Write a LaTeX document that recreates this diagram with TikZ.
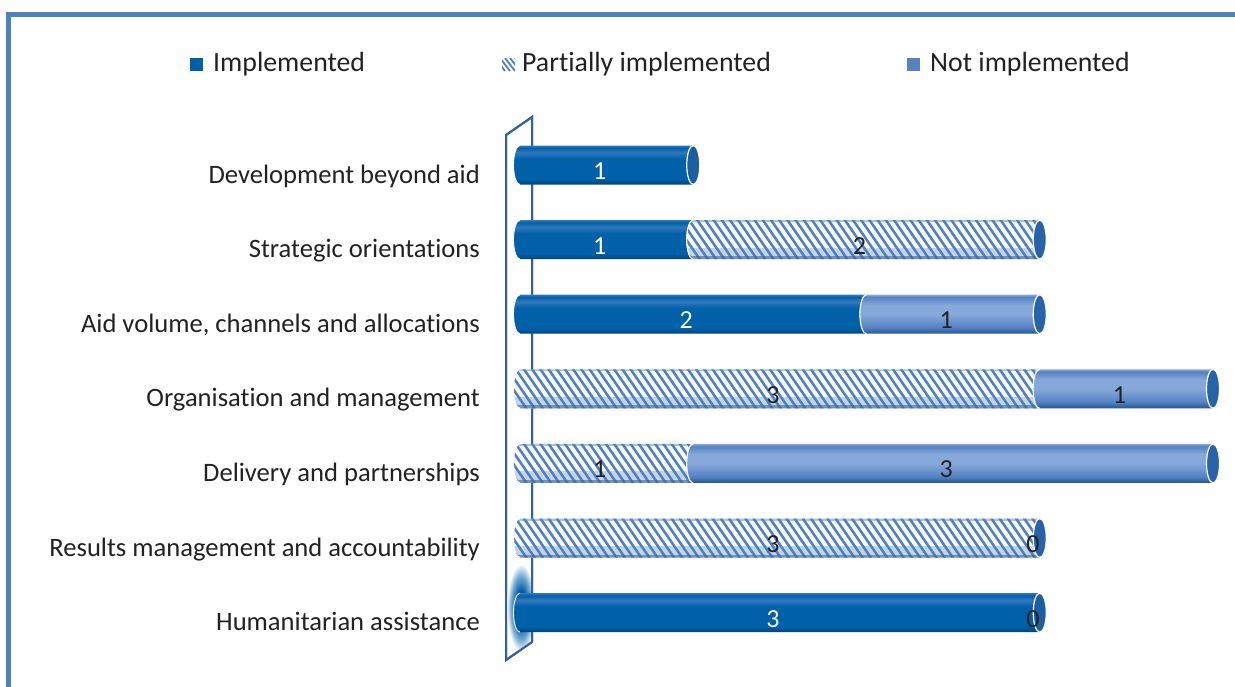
\documentclass[tikz,border=0pt]{standalone}
\usepackage{fontspec}
\setmainfont{Carlito}[RawFeature={-liga;-clig;-calt;-dlig;-hlig}]
\definecolor{frameC}{RGB}{79,129,189}
\definecolor{implC}{RGB}{0,96,168}
\definecolor{implD}{RGB}{0,66,124}
\definecolor{implL}{RGB}{50,120,190}
\definecolor{implCap}{RGB}{28,94,160}
\definecolor{notC}{RGB}{84,130,194}
\definecolor{notL}{RGB}{135,168,218}
\definecolor{notD}{RGB}{36,84,150}
\definecolor{notCap}{RGB}{40,98,168}
\definecolor{stripeC}{RGB}{78,128,194}
\definecolor{stripeBg}{RGB}{248,250,254}
\definecolor{wallC}{RGB}{52,96,160}
\definecolor{txtC}{RGB}{34,34,34}
\pgfdeclareverticalshading{implsh}{100bp}{color(0bp)=(implD); color(25bp)=(implD); color(32bp)=(implC); color(58bp)=(implC); color(66bp)=(implL); color(72bp)=(implC); color(75bp)=(implL); color(100bp)=(implL)}
\pgfdeclareverticalshading{notsh}{100bp}{color(0bp)=(notD); color(25bp)=(notD); color(33bp)=(notC); color(50bp)=(notL); color(62bp)=(notL); color(72bp)=(notC); color(75bp)=(notL); color(100bp)=(notL)}
\pgfdeclareradialshading{glowsh}{\pgfpoint{0bp}{0bp}}{color(0bp)=(implD); color(10bp)=(implC); color(18bp)=(implC!55!white); color(25bp)=(white); color(50bp)=(white)}
\tikzset{
  catlbl/.style={anchor=base east, inner sep=0pt, text=txtC, font=\fontsize{26.6}{30}\selectfont},
  leglbl/.style={anchor=base west, inner sep=0pt, text=txtC, font=\fontsize{27.8}{32}\selectfont},
  numw/.style={anchor=base, inner sep=0pt, text=white, font=\fontsize{26}{30}\selectfont},
  numd/.style={anchor=base, inner sep=0pt, text=txtC, font=\fontsize{26}{30}\selectfont},
  capline/.style={draw=white, line width=1.2pt},
  leftedge/.style={draw=white, line width=0.9pt}
}
\newcommand\implseg[3]{%
  \shade[shading=implsh] (#1,#3-19.5) arc[start angle=90,end angle=270,x radius=6.5pt,y radius=19.5pt] -- (#2,#3+19.5) arc[start angle=270,end angle=450,x radius=6.5pt,y radius=19.5pt] -- cycle;
  \draw[leftedge] (#1,#3-19.5) arc[start angle=90,end angle=270,x radius=6.5pt,y radius=19.5pt];
  \path[fill=implCap, capline] (#2,#3) ellipse[x radius=6.5pt, y radius=19.5pt];
}
\newcommand\notseg[3]{%
  \shade[shading=notsh] (#1,#3-19.5) arc[start angle=90,end angle=270,x radius=6.5pt,y radius=19.5pt] -- (#2,#3+19.5) arc[start angle=270,end angle=450,x radius=6.5pt,y radius=19.5pt] -- cycle;
  \draw[leftedge] (#1,#3-19.5) arc[start angle=90,end angle=270,x radius=6.5pt,y radius=19.5pt];
  \path[fill=notCap, capline] (#2,#3) ellipse[x radius=6.5pt, y radius=19.5pt];
}
\newcommand\partseg[3]{%
  \begin{scope}
    \clip (#1,#3-19.5) arc[start angle=90,end angle=270,x radius=6.5pt,y radius=19.5pt] -- (#2,#3+19.5) arc[start angle=270,end angle=450,x radius=6.5pt,y radius=19.5pt] -- cycle;
    \fill[stripeBg] (#1-8,#3-21) rectangle (#2+8,#3+21);
    \pgfmathtruncatemacro\nst{(#2-#1+50)/8.2}
    \foreach \i in {0,...,\nst}{\draw[stripeC, line width=2.5pt] (#1-38+\i*8.2,#3-21) -- ++(29,42);}
    \fill[stripeC, opacity=0.30] (#1-8,#3+8) rectangle (#2+8,#3+21);
    \fill[stripeC!80!black, opacity=0.6] (#1-8,#3+16.5) rectangle (#2+8,#3+21);
    \fill[stripeC, opacity=0.45] (#1-8,#3-21) rectangle (#2+8,#3-17.5);
  \end{scope}
  \draw[leftedge] (#1,#3-19.5) arc[start angle=90,end angle=270,x radius=6.5pt,y radius=19.5pt];
  \path[fill=notCap, capline] (#2,#3) ellipse[x radius=6.5pt, y radius=19.5pt];
}
\begin{document}
\begin{tikzpicture}[x=1pt,y=-1pt]
\useasboundingbox (0,0) rectangle (1235,686);
\clip (0,0) rectangle (1235,686);
\fill[white] (0,0) rectangle (1235,686);
% frame
\draw[frameC, line width=5pt] (8.5,720) -- (8.5,14.5) -- (1260,14.5);
% legend
\fill[implC] (190,58) rectangle (203,71);
\node[leglbl] (l1) at (213,71) {Implemented};
\begin{scope}
  \clip (502,58) rectangle (515,71);
  \fill[white] (502,58) rectangle (515,71);
  \foreach \i in {0,...,5}{\draw[stripeC, line width=1.8pt] (490+\i*5,58) -- ++(10,13);}
\end{scope}
\node[leglbl] (l2) at (522,71) {Partially implemented};
\fill[notC] (907,58) rectangle (920,71);
\node[leglbl] (l3) at (930,71) {Not implemented};
% wall
\draw[wallC, line width=2pt, fill=white] (506,135) -- (532,117) -- (532,642) -- (506,660) -- cycle;
\begin{scope}
  \clip (506,135) -- (532,117) -- (532,642) -- (506,660) -- cycle;
  \shade[shading=glowsh] (521,608) ellipse[x radius=14pt, y radius=44pt];
\end{scope}
\draw[wallC, line width=2pt] (506,135) -- (532,117) -- (532,642) -- (506,660) -- cycle;
% category labels
\node[catlbl] (c1) at (480,183) {Development beyond aid};
\node[catlbl] (c2) at (480,257.6) {Strategic orientations};
\node[catlbl] (c3) at (480,332.2) {Aid volume, channels and allocations};
\node[catlbl] (c4) at (480,406.8) {Organisation and management};
\node[catlbl] (c5) at (480,481.4) {Delivery and partnerships};
\node[catlbl] (c6) at (480,556) {Results management and accountability};
\node[catlbl] (c7) at (480,630.6) {Humanitarian assistance};
% bars (x: 0->520, 1->693.25, 2->866.5, 3->1039.75, 4->1213)
\implseg{520}{693.25}{165}
\node[numw] (v1a) at (599.6,179.5) {1};
\implseg{520}{693.25}{239.6}
\partseg{693.25}{1039.75}{239.6}
\node[numw] (v2a) at (599.6,254.1) {1};
\node[numd] (v2b) at (859.5,254.1) {2};
\implseg{520}{866.5}{314.2}
\notseg{866.5}{1039.75}{314.2}
\node[numw] (v3a) at (686.2,328.7) {2};
\node[numd] (v3b) at (946.1,328.7) {1};
\partseg{520}{1039.75}{388.8}
\notseg{1039.75}{1213}{388.8}
\node[numd] (v4a) at (772.9,403.3) {3};
\node[numd] (v4b) at (1119.4,403.3) {1};
\partseg{520}{693.25}{463.4}
\notseg{693.25}{1213}{463.4}
\node[numd] (v5a) at (599.6,477.9) {1};
\node[numd] (v5b) at (946.1,477.9) {3};
\partseg{520}{1039.75}{538}
\node[numd] (v6a) at (772.9,552.5) {3};
\node[numd] (v6b) at (1033,552.5) {0};
\implseg{520}{1039.75}{612.6}
\node[numw] (v7a) at (772.9,627.1) {3};
\node[numd] (v7b) at (1033,627.1) {0};
\end{tikzpicture}
\end{document}
